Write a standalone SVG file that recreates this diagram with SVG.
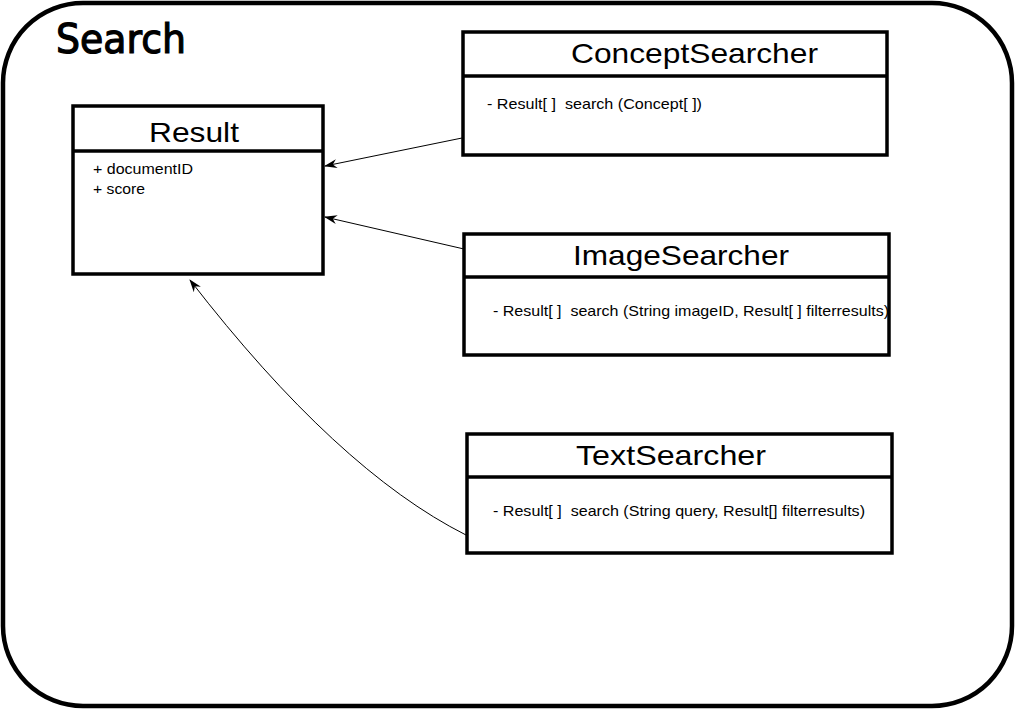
<svg xmlns="http://www.w3.org/2000/svg" width="1017" height="711" viewBox="0 0 1017 711">
<style>
.box{fill:#fff;stroke:#000;stroke-width:3.5}
.div{stroke:#000;stroke-width:3.5}
.ttl{font-family:"Liberation Sans",Arial,sans-serif;font-size:28px;fill:#000}
.att{font-family:"Liberation Sans",Arial,sans-serif;font-size:15px;fill:#000;white-space:pre}
.edge{fill:none;stroke:#000;stroke-width:1}
</style>
<defs>
<marker id="arr" viewBox="0 0 13 10" refX="12" refY="5" markerWidth="13" markerHeight="10" markerUnits="userSpaceOnUse" orient="auto">
<path d="M0,0.5 L13,5 L0,9.5 L4,5 Z" fill="#000"/>
</marker>
</defs>
<rect width="1017" height="711" fill="#fff"/>
<g id="frame">
<rect x="3" y="3" width="1009" height="703" rx="80" ry="80" fill="#fff" stroke="#000" stroke-width="4.5"/>
<text x="56" y="53" font-family="DejaVu Sans,sans-serif" font-size="40" textLength="130" lengthAdjust="spacingAndGlyphs" fill="#000" stroke="#000" stroke-width="1.2">Search</text>
</g>
<g id="connectors">
<path class="edge" d="M462,138 L325,166" marker-end="url(#arr)"/>
<path class="edge" d="M464,249 L325,217" marker-end="url(#arr)"/>
<path class="edge" d="M466,535 Q337,470 190,280" marker-end="url(#arr)"/>
</g>
<g id="Result">
<rect class="box" x="73" y="106" width="250" height="168"/>
<line class="div" x1="73" y1="151" x2="324" y2="151"/>
<text class="ttl" x="149" y="142" textLength="90" lengthAdjust="spacingAndGlyphs">Result</text>
<text class="att" x="93" y="174" textLength="100" lengthAdjust="spacingAndGlyphs">+ documentID</text>
<text class="att" x="93" y="194" textLength="52" lengthAdjust="spacingAndGlyphs">+ score</text>
</g>
<g id="ConceptSearcher">
<rect class="box" x="463" y="32" width="424" height="123"/>
<line class="div" x1="463" y1="76" x2="887" y2="76"/>
<text class="ttl" x="571" y="63" textLength="247" lengthAdjust="spacingAndGlyphs">ConceptSearcher</text>
<text class="att" x="487" y="109" textLength="215" lengthAdjust="spacingAndGlyphs">- Result[ ]  search (Concept[ ])</text>
</g>
<g id="ImageSearcher">
<rect class="box" x="464" y="234" width="425" height="121"/>
<line class="div" x1="464" y1="277" x2="889" y2="277"/>
<text class="ttl" x="573" y="265" textLength="216" lengthAdjust="spacingAndGlyphs">ImageSearcher</text>
<text class="att" x="493" y="316" textLength="396" lengthAdjust="spacingAndGlyphs">- Result[ ]  search (String imageID, Result[ ] filterresults)</text>
</g>
<g id="TextSearcher">
<rect class="box" x="467" y="434" width="425" height="119"/>
<line class="div" x1="467" y1="477" x2="892" y2="477"/>
<text class="ttl" x="576" y="465" textLength="190" lengthAdjust="spacingAndGlyphs">TextSearcher</text>
<text class="att" x="493" y="516" textLength="372" lengthAdjust="spacingAndGlyphs">- Result[ ]  search (String query, Result[] filterresults)</text>
</g>
</svg>
